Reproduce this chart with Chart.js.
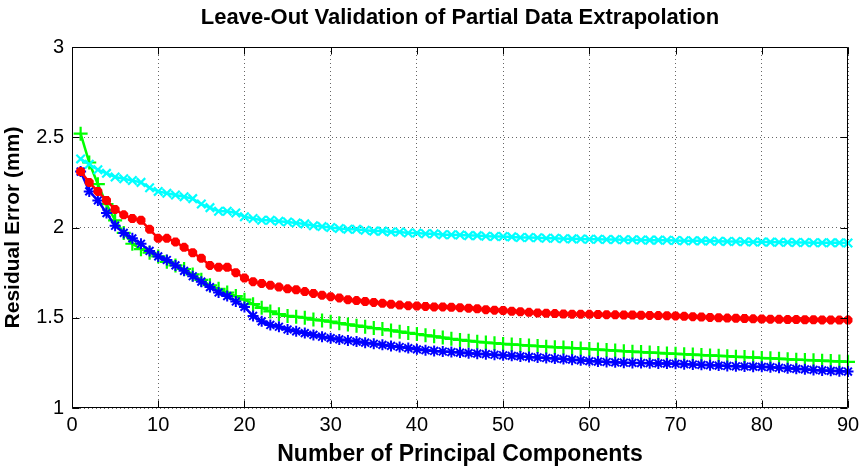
<!DOCTYPE html>
<html>
<head>
<meta charset="utf-8">
<script src="https://cdn.jsdelivr.net/npm/chart.js@4/dist/chart.umd.min.js"></script>
<style>
html,body{margin:0;padding:0;background:#fff;}
#wrap{width:865px;height:476px;position:relative;}
</style>
</head>
<body>
<div id="wrap"><canvas id="c" width="865" height="476"></canvas></div>
<script>
const components = [1,2,3,4,5,6,7,8,9,10,11,12,13,14,15,16,17,18,19,20,21,22,23,24,25,26,27,28,29,30,
31,32,33,34,35,36,37,38,39,40,41,42,43,44,45,46,47,48,49,50,51,52,53,54,55,56,57,58,59,60,
61,62,63,64,65,66,67,68,69,70,71,72,73,74,75,76,77,78,79,80,81,82,83,84,85,86,87,88,89,90];

const cyanSeries = [2.38,2.35,2.32,2.30,2.28,2.27,2.26,2.25,2.22,2.20,
2.19,2.18,2.17,2.16,2.13,2.11,2.09,2.09,2.08,2.06,
2.05,2.04,2.04,2.035,2.03,2.025,2.02,2.01,2.005,2.0,
1.995,1.99,1.99,1.985,1.98,1.98,1.975,1.975,1.97,1.97,
1.965,1.965,1.96,1.96,1.958,1.955,1.955,1.952,1.95,1.95,
1.948,1.945,1.945,1.943,1.94,1.94,1.938,1.937,1.936,1.935,
1.935,1.934,1.933,1.932,1.932,1.931,1.93,1.93,1.929,1.928,
1.927,1.927,1.926,1.925,1.924,1.923,1.922,1.921,1.92,1.92,
1.919,1.918,1.918,1.917,1.917,1.916,1.916,1.915,1.915,1.914];

const redSeries = [2.31,2.25,2.20,2.15,2.10,2.07,2.05,2.04,1.99,1.94,
1.94,1.92,1.89,1.86,1.83,1.79,1.78,1.78,1.75,1.72,
1.70,1.69,1.68,1.67,1.66,1.655,1.645,1.635,1.625,1.617,
1.61,1.60,1.595,1.59,1.585,1.58,1.575,1.57,1.567,1.565,
1.563,1.56,1.56,1.558,1.556,1.553,1.55,1.545,1.542,1.54,
1.536,1.533,1.53,1.527,1.525,1.523,1.521,1.52,1.52,1.519,
1.518,1.517,1.516,1.515,1.515,1.514,1.513,1.512,1.511,1.51,
1.508,1.506,1.504,1.502,1.50,1.498,1.497,1.496,1.494,1.493,
1.492,1.491,1.49,1.49,1.489,1.489,1.488,1.488,1.487,1.487];

const greenSeries = [2.52,2.36,2.24,2.13,2.04,1.97,1.91,1.88,1.86,1.84,
1.81,1.79,1.77,1.74,1.71,1.68,1.66,1.64,1.62,1.60,
1.575,1.555,1.535,1.52,1.51,1.505,1.50,1.49,1.485,1.478,
1.47,1.463,1.456,1.45,1.443,1.437,1.43,1.423,1.416,1.41,
1.403,1.397,1.39,1.383,1.377,1.372,1.367,1.363,1.359,1.355,
1.352,1.349,1.346,1.343,1.34,1.337,1.335,1.332,1.33,1.327,
1.324,1.321,1.318,1.315,1.312,1.31,1.307,1.305,1.302,1.30,
1.298,1.296,1.293,1.291,1.289,1.287,1.284,1.282,1.28,1.277,
1.275,1.273,1.27,1.268,1.266,1.264,1.262,1.26,1.258,1.256];

const blueSeries = [2.31,2.20,2.15,2.08,2.01,1.97,1.94,1.91,1.87,1.84,
1.82,1.79,1.76,1.73,1.70,1.67,1.64,1.62,1.59,1.56,
1.51,1.48,1.46,1.45,1.435,1.425,1.415,1.405,1.395,1.387,
1.38,1.374,1.368,1.362,1.356,1.35,1.344,1.338,1.332,1.325,
1.32,1.316,1.313,1.31,1.307,1.304,1.301,1.298,1.295,1.292,
1.289,1.286,1.283,1.28,1.277,1.274,1.271,1.268,1.264,1.26,
1.257,1.255,1.253,1.251,1.25,1.249,1.248,1.247,1.246,1.245,
1.243,1.241,1.239,1.237,1.235,1.233,1.231,1.23,1.229,1.228,
1.226,1.223,1.22,1.217,1.214,1.211,1.208,1.206,1.204,1.202];

const xTicks = [0,10,20,30,40,50,60,70,80,90];
const yTicks = [1,1.5,2,2.5,3];

const titleText = 'Leave-Out Validation of Partial Data Extrapolation';
const xTitle = 'Number of Principal Components';
const yTitle = 'Residual Error (mm)';

function pts(arr){ return components.map((c,i)=>({x:c,y:arr[i]})); }

const boxPlugin = {
  id:'box',
  afterDatasetsDraw(chart){
    const {ctx, chartArea:a, scales} = chart;
    ctx.save();
    ctx.strokeStyle='#000';
    ctx.lineWidth=1;
    const L=Math.round(a.left)+0.5, R=Math.round(a.right)-0.5, T=Math.round(a.top)+0.5, B=Math.round(a.bottom)-0.5;
    ctx.beginPath();
    ctx.rect(L,T,R-L,B-T);
    ctx.stroke();
    const tl=7;
    ctx.beginPath();
    xTicks.forEach(v=>{
      const px=Math.round(scales.x.getPixelForValue(v))+0.5;
      ctx.moveTo(px,B); ctx.lineTo(px,B-tl);
      ctx.moveTo(px,T); ctx.lineTo(px,T+tl);
    });
    yTicks.forEach(v=>{
      const py=Math.round(scales.y.getPixelForValue(v))+0.5;
      ctx.moveTo(L,py); ctx.lineTo(L+tl,py);
      ctx.moveTo(R,py); ctx.lineTo(R-tl,py);
    });
    ctx.stroke();
    ctx.restore();
  }
};

Chart.defaults.font.family = '"Liberation Sans", Arial, sans-serif';
Chart.defaults.color = '#000';

new Chart(document.getElementById('c'), {
  type:'line',
  data:{
    datasets:[
      {label:'blue', data:pts(blueSeries), borderColor:'#0000ff', backgroundColor:'#0000ff', pointStyle:'star', pointRadius:5.5, pointBorderWidth:2, borderWidth:2.5, order:1, clip:false},
      {label:'red', data:pts(redSeries), borderColor:'#ff0000', backgroundColor:'#ff0000', pointStyle:'star', pointRadius:4.5, pointBorderWidth:3.5, borderWidth:2.5, order:0, clip:false},
      {label:'green', data:pts(greenSeries), borderColor:'#00ff00', backgroundColor:'#00ff00', pointStyle:'cross', pointRadius:7, pointBorderWidth:2.2, borderWidth:2.5, order:3, clip:false},
      {label:'cyan', data:pts(cyanSeries), borderColor:'#00ffff', backgroundColor:'#00ffff', pointStyle:'crossRot', pointRadius:6, pointBorderWidth:2.2, borderWidth:2.5, order:2, clip:false}
    ]
  },
  options:{
    responsive:false,
    animation:false,
    devicePixelRatio:1,
    layout:{padding:{left:0,right:17,top:0,bottom:0}},
    plugins:{
      legend:{display:false},
      tooltip:{enabled:false},
      title:{display:true, text:titleText, fullSize:false, font:{size:22, weight:'bold'}, padding:{top:5,bottom:15.6}, color:'#000'}
    },
    scales:{
      x:{
        type:'linear', min:0, max:90,
        afterFit(s){ s.height = 68; },
        afterBuildTicks(s){ s.ticks = xTicks.map(v=>({value:v})); },
        ticks:{font:{size:20}, padding:5, maxRotation:0, color:'#000'},
        grid:{color:'#666', lineWidth:1, drawTicks:false},
        border:{display:false, dash:[1,3]},
        title:{display:true, text:xTitle, font:{size:23, weight:'bold'}, padding:{top:0,bottom:8}, color:'#000'}
      },
      y:{
        type:'linear', min:1, max:3,
        afterFit(s){ s.width = 72; },
        afterBuildTicks(s){ s.ticks = yTicks.map(v=>({value:v})); },
        ticks:{font:{size:20}, padding:8, color:'#000', callback:v=>String(v)},
        grid:{color:'#666', lineWidth:1, drawTicks:false},
        border:{display:false, dash:[1,3]},
        title:{display:true, text:yTitle, font:{size:21, weight:'bold'}, padding:{top:1,bottom:0}, color:'#000'}
      }
    }
  },
  plugins:[boxPlugin]
});
</script>
</body>
</html>
